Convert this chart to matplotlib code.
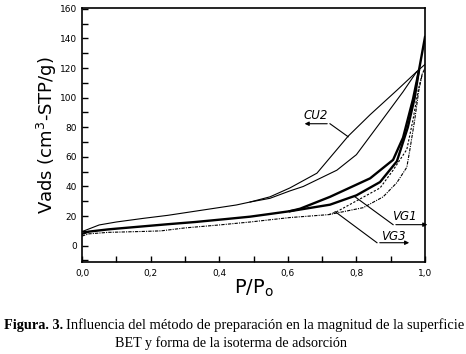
import matplotlib
matplotlib.use("Agg")
import matplotlib.pyplot as plt
from matplotlib.ticker import MultipleLocator, FuncFormatter

# --- isotherm data (P/P0, Vads) ---
cu2_ads_x = [0.0, 0.05, 0.10, 0.18, 0.25, 0.35, 0.45, 0.49, 0.548, 0.606, 0.645, 0.743, 0.80, 0.869, 0.936, 0.976, 1.0]
cu2_ads_y = [9.5, 14, 16, 18.5, 20.5, 24, 27.5, 29.5, 32, 37, 40, 51, 61.5, 83, 104, 117.6, 122.5]
cu2_des_x = [0.49, 0.548, 0.606, 0.685, 0.776, 0.84, 0.918, 0.976]
cu2_des_y = [29.5, 33, 39, 49, 74, 88.5, 105, 117.6]

vg1_ads_x = [0.0, 0.02, 0.076, 0.10, 0.175, 0.25, 0.33, 0.42, 0.49, 0.55, 0.606, 0.723, 0.80, 0.869, 0.918, 0.95, 0.97, 0.982, 1.0]
vg1_ads_y = [8, 9.5, 11, 11.5, 13, 14.5, 16, 18, 19.6, 21.5, 23.3, 27.7, 34, 43, 57, 80, 100, 118, 141]
vg1_des_x = [0.606, 0.636, 0.723, 0.84, 0.907, 0.936, 0.965, 0.982]
vg1_des_y = [23.3, 25, 33, 45.5, 58, 73, 99, 118]

vg3_ads_x = [0.0, 0.02, 0.076, 0.175, 0.23, 0.30, 0.40, 0.49, 0.606, 0.72, 0.82, 0.878, 0.918, 0.947, 0.956, 0.97, 0.982, 0.992, 1.0]
vg3_ads_y = [6.5, 8, 9, 9.6, 10, 12, 14, 16, 19, 21, 25.7, 33, 42.6, 53, 65, 85, 105, 116, 120]
vg3_des_x = [0.72, 0.743, 0.869, 0.907, 0.947, 0.965, 0.98, 0.992]
vg3_des_y = [21, 23, 39, 51, 65, 85, 105, 116]

fig = plt.figure(figsize=(4.66, 3.54), dpi=100)
ax = fig.add_axes([0.176, 0.260, 0.736, 0.717])

thin = dict(color="black", lw=0.8)
ax.plot(cu2_ads_x, cu2_ads_y, **thin)
ax.plot(cu2_des_x, cu2_des_y, **thin)
ax.plot(vg1_ads_x, vg1_ads_y, color="black", lw=1.7)
ax.plot(vg1_des_x, vg1_des_y, color="black", lw=1.7)
ax.plot(vg3_ads_x, vg3_ads_y, color="black", lw=0.8, ls=(0, (3, 1, 1, 1)))
ax.plot(vg3_des_x, vg3_des_y, color="black", lw=0.8, ls=(0, (2, 1.5)))

ax.set_xlim(0, 1.0)
ax.set_ylim(-11, 160.5)
ax.xaxis.set_major_locator(MultipleLocator(0.2))
ax.xaxis.set_minor_locator(MultipleLocator(0.1))
ax.yaxis.set_major_locator(MultipleLocator(20))
ax.yaxis.set_minor_locator(MultipleLocator(10))
ax.xaxis.set_major_formatter(FuncFormatter(lambda v, p: f"{v:.1f}".replace(".", ",")))
ax.tick_params(which="both", direction="in", top=False, right=False, labelsize=6.5, width=1.0, length=4)
ax.tick_params(axis="x", pad=5)
for s in ax.spines.values():
    s.set_linewidth(1.2)

ax.set_ylabel("Vads (cm$^3$-STP/g)", fontsize=13, labelpad=1)
ax.set_xlabel("P/P$_{\\mathregular{o}}$", fontsize=14, labelpad=0)

# --- annotations with leader lines ---
ax.text(0.682, 88, "CU2", fontsize=8.5, style="italic", ha="center", va="center")
ax.plot([0.776, 0.723], [73.6, 82.4], color="black", lw=0.8)
ax.annotate("", xy=(0.641, 82.4), xytext=(0.723, 82.4),
            arrowprops=dict(arrowstyle="-|>", lw=0.8, color="black", mutation_scale=6))

ax.text(0.939, 19.6, "VG1", fontsize=8.5, style="italic", ha="center", va="center")
ax.plot([0.796, 0.907], [33, 14.2], color="black", lw=0.8)
ax.annotate("", xy=(1.015, 14.2), xytext=(0.907, 14.2), annotation_clip=False,
            arrowprops=dict(arrowstyle="-|>", lw=0.8, color="black", mutation_scale=6))

ax.text(0.907, 6, "VG3", fontsize=8.5, style="italic", ha="center", va="center")
ax.plot([0.738, 0.86], [23, 2], color="black", lw=0.8)
ax.annotate("", xy=(0.962, 2), xytext=(0.86, 2),
            arrowprops=dict(arrowstyle="-|>", lw=0.8, color="black", mutation_scale=6))

# --- caption ---
serif = "Liberation Serif"
t1 = fig.text(4 / 466, 1 - 325 / 354, "Figura. 3.", fontsize=10.3, family=serif,
              weight="bold", va="center", ha="left")
fig.canvas.draw()
bb = t1.get_window_extent()
fig.text(bb.x1 / 466 + 0.006, 1 - 325 / 354,
         "Influencia del método de preparación en la magnitud de la superficie",
         fontsize=10.45, family=serif, va="center", ha="left")
fig.text(0.495, 1 - 343 / 354, "BET y forma de la isoterma de adsorción",
         fontsize=10.2, family=serif, va="center", ha="center")

fig.savefig("out.png", dpi=100)
